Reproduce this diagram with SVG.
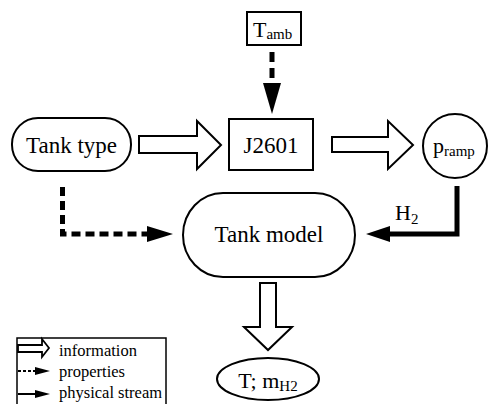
<svg xmlns="http://www.w3.org/2000/svg" width="488" height="404" viewBox="0 0 488 404">
<style>
.node{fill:#fff;stroke:#000;stroke-width:2}
.t{font-family:"Liberation Serif","Times New Roman",serif;fill:#000}
.big{font-size:23px}
.info{fill:#fff;stroke:#000;stroke-width:2;stroke-linejoin:miter}
.prop{fill:none;stroke:#000;stroke-width:5}
.phys{fill:none;stroke:#000;stroke-width:5;stroke-linejoin:miter}
.head{fill:#000}
.leg{font-size:16.5px}
</style>
<rect width="488" height="404" fill="#fff"/>
<g id="connectors">
  <polygon class="info" points="139,136 197,136 197,121 221,145 197,169 197,153 139,153"/>
  <polygon class="info" points="332,137 388,137 388,121 413,145 388,169 388,152 332,152"/>
  <polygon class="info" points="260,283 276,283 276,327 292,327 268,350 244,327 260,327"/>
  <path class="prop" d="M272,52 V83" stroke-dasharray="10 6"/>
  <polygon class="head" points="263,83 281,83 272,114"/>
  <path class="prop" d="M62.5,187 V234 H147" stroke-dasharray="9 5"/>
  <polygon class="head" points="147,226 147,242 173,234"/>
  <path class="phys" d="M457,186 V234 H390"/>
  <polygon class="head" points="390,226 390,242 366,234"/>
  <text class="t" x="395" y="220" font-size="22">H<tspan font-size="15" dy="4">2</tspan></text>
</g>
<g id="tamb">
  <rect class="node" x="247" y="12" width="54" height="33"/>
  <text class="t" x="253" y="37" font-size="22">T<tspan font-size="15" dy="2">amb</tspan></text>
</g>
<g id="tanktype">
  <rect class="node" x="12" y="118" width="119" height="53" rx="26" ry="26"/>
  <text class="t big" x="71.5" y="153" text-anchor="middle">Tank type</text>
</g>
<g id="j2601">
  <rect class="node" x="229" y="119" width="84" height="51"/>
  <text class="t big" x="271" y="153" text-anchor="middle">J2601</text>
</g>
<g id="pramp">
  <circle class="node" cx="455" cy="146" r="32"/>
  <text class="t" x="433" y="153" font-size="22">p<tspan font-size="15" dy="3">ramp</tspan></text>
</g>
<g id="tankmodel">
  <rect class="node" x="183" y="193" width="172" height="84" rx="40" ry="42"/>
  <text class="t big" x="269" y="242" text-anchor="middle">Tank model</text>
</g>
<g id="output">
  <ellipse class="node" cx="268" cy="379" rx="51" ry="21"/>
  <text class="t" x="268" y="388" font-size="22" text-anchor="middle">T; m<tspan font-size="15" dy="3">H2</tspan></text>
</g>
<g id="legend">
  <rect x="17" y="338" width="149" height="80" fill="#fff" stroke="#000" stroke-width="1.5"/>
  <polygon class="info" points="18,345 42,345 42,339 49,348 42,357 42,352 18,352" style="stroke-width:1.8"/>
  <text class="t leg" x="59" y="356">information</text>
  <path d="M18,371 H36" stroke="#000" stroke-width="2" stroke-dasharray="3 2"/>
  <polygon class="head" points="35,367 35,375 50,371"/>
  <text class="t leg" x="59" y="377">properties</text>
  <path d="M18,394 H36" stroke="#000" stroke-width="2"/>
  <polygon class="head" points="35,390 35,398 50,394"/>
  <text class="t leg" x="59" y="398">physical stream</text>
</g>
</svg>
